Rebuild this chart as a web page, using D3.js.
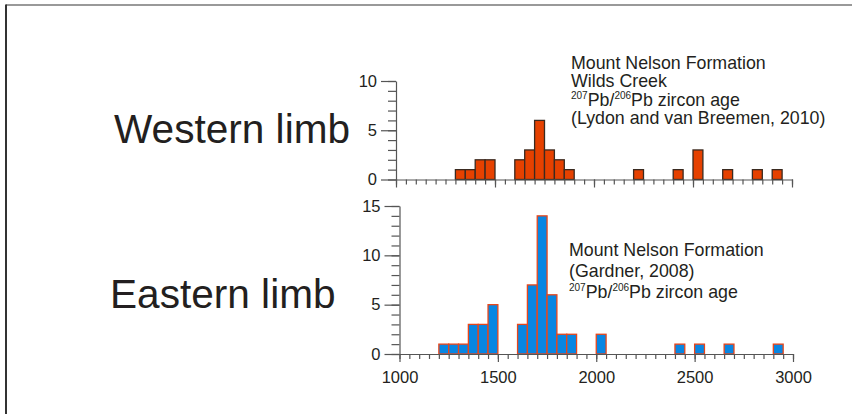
<!DOCTYPE html>
<html>
<head>
<meta charset="utf-8">
<script src="https://cdn.jsdelivr.net/npm/d3@7"></script>
<style>
  body { margin: 0; background: #fff; }
  svg text { font-family: "Liberation Sans", Arial, sans-serif; fill: #231f20; }
  .axis path, .axis line { stroke: #555; stroke-width: 1.2; }
  .axis text { font-size: 16.5px; fill: #231f20; }
</style>
</head>
<body>
<div id="chart"></div>
<script>
// histogram bins (left edge, Ma) and counts, 50 Myr bins
var westBins   = [1300, 1350, 1400, 1450, 1600, 1650, 1700, 1750, 1800, 1850, 2200, 2400, 2500, 2650, 2800, 2900];
var westCounts = [1, 1, 2, 2, 2, 3, 6, 3, 2, 1, 1, 1, 3, 1, 1, 1];

var eastBins   = [1200, 1250, 1300, 1350, 1400, 1450, 1600, 1650, 1700, 1750, 1800, 1850, 2000, 2400, 2500, 2650, 2900];
var eastCounts = [1, 1, 1, 3, 3, 5, 3, 7, 14, 6, 2, 2, 2, 1, 1, 1, 1];

var binWidth = 50;
var xMajor = [1000, 1500, 2000, 2500, 3000];
var westYMajor = [0, 5, 10];
var eastYMajor = [0, 5, 10, 15];

var westLines = ["Mount Nelson Formation", "Wilds Creek", "ISO", "(Lydon and van Breemen, 2010)"];
var eastLines = ["Mount Nelson Formation", "(Gardner, 2008)", "ISO"];

var width = 852, height = 414;

var svg = d3.select("#chart").append("svg")
    .attr("width", width)
    .attr("height", height);

// frame
svg.append("line").attr("x1", 6).attr("x2", width).attr("y1", 5).attr("y2", 5)
    .style("stroke", "#777").style("stroke-width", 1.5);
svg.append("line").attr("x1", 6).attr("x2", 6).attr("y1", 4.5).attr("y2", height)
    .style("stroke", "#333").style("stroke-width", 2);

function panel(opts) {
  var x = d3.scaleLinear().domain([1000, 3000]).range([opts.x0, opts.x1]);
  var y = d3.scaleLinear().domain([0, opts.yMax]).range([opts.y0, opts.y1]);
  var g = svg.append("g");

  var data = opts.bins.map(function(b, i) { return {b: b, n: opts.counts[i]}; });

  g.selectAll("rect.bar")
      .data(data)
    .enter().append("rect")
      .attr("class", "bar")
      .attr("x", function(d) { return x(d.b); })
      .attr("width", function(d) { return x(d.b + binWidth) - x(d.b); })
      .attr("y", function(d) { return y(d.n); })
      .attr("height", function(d) { return y(0) - y(d.n); })
      .style("fill", opts.fill)
      .style("stroke", opts.stroke)
      .style("stroke-width", 1.3);

  // x axis: minor then major
  g.append("g").attr("class", "axis")
      .attr("transform", "translate(0," + y(0) + ")")
      .call(d3.axisBottom(x).tickValues(d3.range(1000, 3001, 50)).tickSize(5).tickFormat(""))
      .call(function(s) { s.select(".domain").remove(); });
  var xa = g.append("g").attr("class", "axis")
      .attr("transform", "translate(0," + y(0) + ")")
      .call(d3.axisBottom(x).tickValues(xMajor).tickSizeInner(8).tickSizeOuter(0)
            .tickFormat(opts.xLabels ? d3.format("d") : ""));
  xa.selectAll("text").attr("dy", "1.1em");

  // y axis: minor then major
  g.append("g").attr("class", "axis")
      .attr("transform", "translate(" + x(1000) + ",0)")
      .call(d3.axisLeft(y).tickValues(d3.range(0, opts.yMax + 1, 1)).tickSize(8).tickFormat(""))
      .call(function(s) { s.select(".domain").remove(); });
  g.append("g").attr("class", "axis")
      .attr("transform", "translate(" + x(1000) + ",0)")
      .call(d3.axisLeft(y).tickValues(opts.yMajor).tickSizeInner(15).tickSizeOuter(0).tickPadding(4));

  // side label
  g.append("text")
      .attr("x", opts.labelX).attr("y", opts.labelY)
      .style("font-size", "40.6px")
      .text(opts.label);

  // annotation
  var t = g.append("g").attr("transform", "translate(" + opts.noteX + ",0)");
  opts.notes.forEach(function(line, i) {
    var tx = t.append("text")
        .attr("x", 0)
        .attr("y", opts.noteY + i * opts.noteStep)
        .style("font-size", "17.8px");
    if (line === "ISO") {
      tx.append("tspan").attr("dy", -7).style("font-size", "10px").text("207");
      tx.append("tspan").attr("dy", 7).text("Pb/");
      tx.append("tspan").attr("dy", -7).style("font-size", "10px").text("206");
      tx.append("tspan").attr("dy", 7).text("Pb zircon age");
    } else {
      tx.text(line);
    }
  });
}

panel({
  bins: westBins, counts: westCounts, yMax: 10, yMajor: westYMajor,
  x0: 396, x1: 792, y0: 179.5, y1: 81,
  fill: "#e64100", stroke: "#3a2a20", xLabels: false,
  label: "Western limb", labelX: 114, labelY: 143,
  notes: westLines, noteX: 571, noteY: 69, noteStep: 18.4
});

panel({
  bins: eastBins, counts: eastCounts, yMax: 15, yMajor: eastYMajor,
  x0: 399.5, x1: 793, y0: 354, y1: 206,
  fill: "#0886e2", stroke: "#e8461a", xLabels: true,
  label: "Eastern limb", labelX: 110, labelY: 308,
  notes: eastLines, noteX: 569, noteY: 256, noteStep: 21
});
</script>
</body>
</html>
